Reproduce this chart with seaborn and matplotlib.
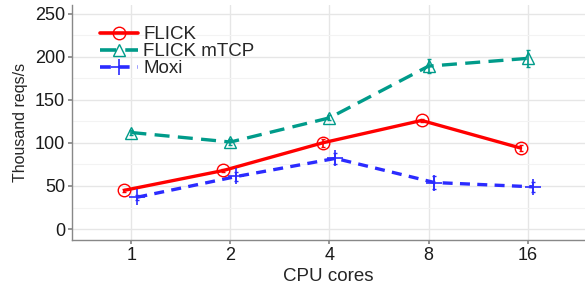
import numpy as np
import pandas as pd
import matplotlib
matplotlib.use("Agg")
import matplotlib.pyplot as plt
import seaborn as sns
from matplotlib.lines import Line2D
from matplotlib.ticker import MultipleLocator

# -----------------------------
# DATA
# -----------------------------
CORES = ["1", "2", "4", "8", "16"]
FLICK = [45, 68, 100, 126, 94]
FLICK_ERR = [2, 2, 5, 2, 3]
MTCP = [112, 101, 129, 189, 198]
MTCP_ERR = [3, 3, 3, 8, 10]
MOXI = [37, 61, 82, 54, 49]
MOXI_ERR = [3, 5, 6, 7, 6]

SERIES = ["FLICK", "FLICK mTCP", "Moxi"]

# -----------------------------
# STYLE
# -----------------------------
sns.set_theme(style="whitegrid")
plt.rcParams["font.family"] = ["Liberation Sans", "DejaVu Sans"]

COLORS = {"FLICK": "#FF0000", "FLICK mTCP": "#009B8A", "Moxi": "#2B2BFF"}
MARKERS = {"FLICK": "o", "FLICK mTCP": "^", "Moxi": "+"}
DASHES = {"FLICK": None, "FLICK mTCP": (4.5, 2.5), "Moxi": (3, 2.2)}
OFFSETS = {"FLICK": -0.07, "FLICK mTCP": 0.0, "Moxi": 0.06}

rows = []
for name, vals, errs in [("FLICK", FLICK, FLICK_ERR),
                         ("FLICK mTCP", MTCP, MTCP_ERR),
                         ("Moxi", MOXI, MOXI_ERR)]:
    for i, (v, e) in enumerate(zip(vals, errs)):
        rows.append({"Series": name, "pos": i + OFFSETS[name], "value": v, "err": e})
df = pd.DataFrame(rows)


def marker_kw(name):
    if MARKERS[name] == "+":
        return dict(marker="+", markersize=12, markeredgewidth=1.2,
                    markeredgecolor=COLORS[name])
    return dict(marker=MARKERS[name], markersize=9, markerfacecolor="none",
                markeredgecolor=COLORS[name], markeredgewidth=1.0)


fig = plt.figure(figsize=(5.85, 2.9), dpi=100)
ax = fig.add_axes([0.123, 0.172, 0.877, 0.811])

handles = []
for name in SERIES:
    sub = df[df["Series"] == name]
    ax.errorbar(sub["pos"], sub["value"], yerr=sub["err"], fmt="none",
                ecolor=COLORS[name], elinewidth=1.2, capsize=1.5, zorder=2)

    kw = dict(color=COLORS[name], linewidth=2.4, ax=ax, zorder=3, legend=False)
    if DASHES[name] is None:
        kw["linestyle"] = "-"
    else:
        kw["dashes"] = DASHES[name]
    sns.lineplot(data=sub, x="pos", y="value", **kw)
    ax.plot(sub["pos"], sub["value"], linestyle="none", zorder=4, **marker_kw(name))

    ls = "-" if DASHES[name] is None else (0, DASHES[name])
    handles.append(Line2D([], [], color=COLORS[name], linewidth=2.6,
                          linestyle=ls, **marker_kw(name)))

ax.set_xlim(-0.6, 4.58)
ax.set_ylim(-12.8, 260)
ax.set_xticks(range(len(CORES)))
ax.set_xticklabels(CORES)
ax.set_yticks([0, 50, 100, 150, 200, 250])
ax.yaxis.set_minor_locator(MultipleLocator(25))

ax.grid(which="major", color="#E6E6E6", linewidth=1.0)
ax.grid(which="minor", axis="y", color="#F3F3F3", linewidth=0.8)
ax.set_axisbelow(True)
for side in ["top", "right"]:
    ax.spines[side].set_visible(False)
for side in ["left", "bottom"]:
    ax.spines[side].set_color("#888888")
    ax.spines[side].set_linewidth(1.0)

ax.tick_params(axis="both", which="major", labelsize=13, length=3,
               color="#888888", direction="out", pad=2, labelcolor="#1a1a1a")
ax.tick_params(axis="y", which="minor", length=0)
ax.tick_params(left=True, bottom=True)

ax.set_xlabel("CPU cores", fontsize=13.5, labelpad=3)
ax.set_ylabel("Thousand reqs/s", fontsize=11.5, labelpad=5)

leg = ax.legend(handles, SERIES, loc="upper left", bbox_to_anchor=(0.055, 0.91),
                frameon=False, fontsize=13.5, handlelength=2.0, handletextpad=0.3,
                labelspacing=0.0, borderaxespad=0, borderpad=0)

fig.savefig("out.png", dpi=100)
